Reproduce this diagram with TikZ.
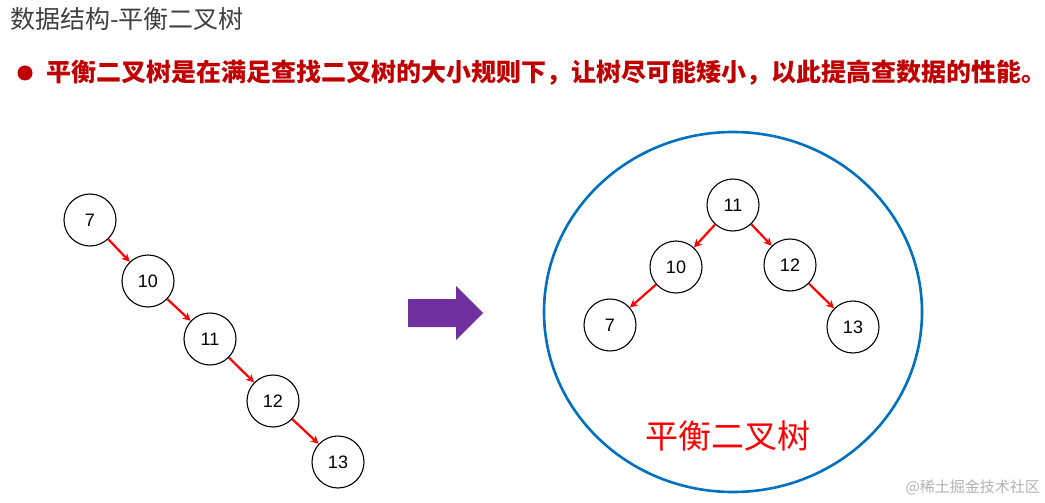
\documentclass[tikz,border=0pt]{standalone}
\usepackage{fontspec}
\setsansfont{Liberation Sans}
\newfontfamily\cjk{Noto Sans CJK SC}
\usetikzlibrary{arrows.meta}
\definecolor{tgray}{HTML}{404040}
\definecolor{tred}{HTML}{C00000}
\definecolor{bred}{HTML}{FF0000}
\definecolor{cblue}{HTML}{0070C0}
\definecolor{apurple}{HTML}{7030A0}
\tikzset{
  nd/.style={circle,draw=black,line width=1.1pt,minimum size=52pt,inner sep=0,font=\sffamily\fontsize{18}{18}\selectfont},
  rarr/.style={-{Stealth[length=8pt,width=8pt]},line width=2.2pt,draw=bred},
}

\begin{document}
\begin{tikzpicture}[x=1pt,y=-1pt]
  \useasboundingbox (0,0) rectangle (1045,503);
  % --- titel
  \node[anchor=west,text=tgray,font=\cjk\fontsize{25}{25}\selectfont,inner sep=0] (title) at (10,19) {数据结构-平衡二叉树};
  \fill[tred] (25,73) circle (7.5) coordinate (dot);
  \node[anchor=west,text=tred,font=\cjk\bfseries\fontsize{25}{25}\selectfont,inner sep=0] (desc) at (46,73) {平衡二叉树是在满足查找二叉树的大小规则下，让树尽可能矮小，以此提高查数据的性能。};
  % --- links: kette
  \foreach \x/\y/\v in {90/220/7, 148/281/10, 210/339/11, 273/401/12, 338/462/13}
    \node[nd] (l\v) at (\x,\y) {\v};
  \foreach \a/\b in {7/10, 10/11, 11/12, 12/13}
    \draw[rarr] (l\a) -- (l\b);
  % --- pfeil
  \fill[apurple] (408,299) -- (456,299) -- (456,286) -- (483,313) -- (456,340) -- (456,327) -- (408,327) -- cycle;
  % --- rechts: balanciert
  \draw[cblue,line width=2.6pt] (733,312) ellipse (189 and 180);
  \foreach \x/\y/\v in {733/205/11, 676/267/10, 790/265/12, 610/325/7, 853/327/13}
    \node[nd] (r\v) at (\x,\y) {\v};
  \foreach \a/\b in {11/10, 11/12, 10/7, 12/13}
    \draw[rarr] (r\a) -- (r\b);
  \node[text=bred,font=\cjk\fontsize{33}{33}\selectfont] (lbl) at (728,436) {平衡二叉树};
  \node[anchor=east,text=black!30,font=\cjk\fontsize{15}{15}\selectfont,inner sep=0] (wm) at (1040,487) {@稀土掘金技术社区};
\end{tikzpicture}
\end{document}
